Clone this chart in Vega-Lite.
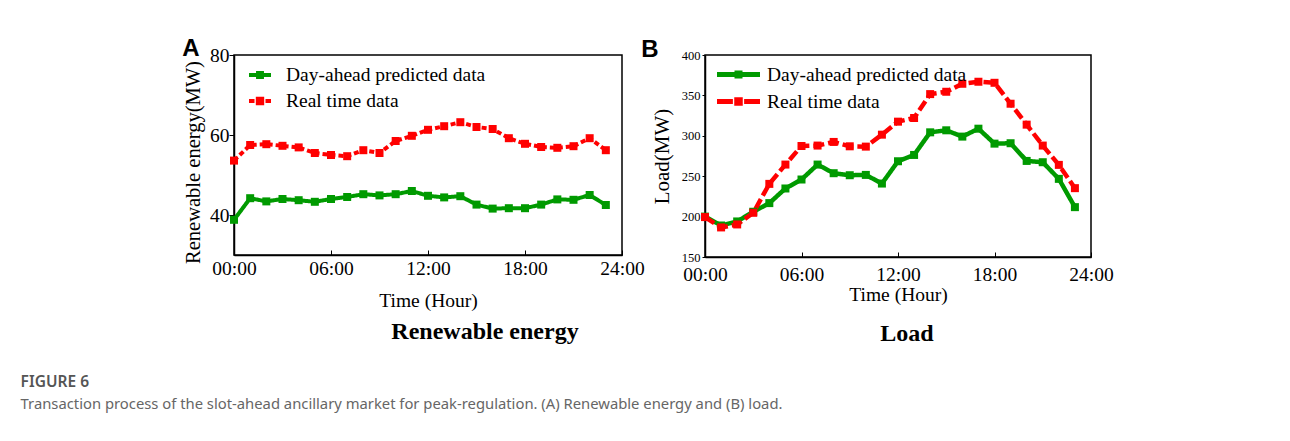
{
  "$schema": "https://vega.github.io/schema/vega-lite/v6.json",
  "background": "white",
  "padding": {"left": 20, "top": 36, "right": 5, "bottom": 5},
  "spacing": -5,
  "title": {
    "text": "FIGURE 6",
    "subtitle": "Transaction process of the slot-ahead ancillary market for peak-regulation. (A) Renewable energy and (B) load.",
    "orient": "bottom",
    "anchor": "start",
    "dx": -161,
    "offset": 28,
    "font": "Noto Sans",
    "fontSize": 15.5,
    "fontWeight": 600,
    "color": "#555555",
    "subtitleFont": "Noto Sans",
    "subtitleFontSize": 14.8,
    "subtitleColor": "#666666",
    "subtitlePadding": 7
  },
  "datasets": {
    "series": [
      {"panel": "A", "series": "Day-ahead predicted data", "hour": 0, "value": 38.8},
      {"panel": "A", "series": "Day-ahead predicted data", "hour": 1, "value": 44.2},
      {"panel": "A", "series": "Day-ahead predicted data", "hour": 2, "value": 43.4},
      {"panel": "A", "series": "Day-ahead predicted data", "hour": 3, "value": 44.0},
      {"panel": "A", "series": "Day-ahead predicted data", "hour": 4, "value": 43.7},
      {"panel": "A", "series": "Day-ahead predicted data", "hour": 5, "value": 43.3},
      {"panel": "A", "series": "Day-ahead predicted data", "hour": 6, "value": 44.0},
      {"panel": "A", "series": "Day-ahead predicted data", "hour": 7, "value": 44.5},
      {"panel": "A", "series": "Day-ahead predicted data", "hour": 8, "value": 45.2},
      {"panel": "A", "series": "Day-ahead predicted data", "hour": 9, "value": 44.9},
      {"panel": "A", "series": "Day-ahead predicted data", "hour": 10, "value": 45.2},
      {"panel": "A", "series": "Day-ahead predicted data", "hour": 11, "value": 46.0},
      {"panel": "A", "series": "Day-ahead predicted data", "hour": 12, "value": 44.8},
      {"panel": "A", "series": "Day-ahead predicted data", "hour": 13, "value": 44.4},
      {"panel": "A", "series": "Day-ahead predicted data", "hour": 14, "value": 44.7},
      {"panel": "A", "series": "Day-ahead predicted data", "hour": 15, "value": 42.6},
      {"panel": "A", "series": "Day-ahead predicted data", "hour": 16, "value": 41.6},
      {"panel": "A", "series": "Day-ahead predicted data", "hour": 17, "value": 41.7},
      {"panel": "A", "series": "Day-ahead predicted data", "hour": 18, "value": 41.7},
      {"panel": "A", "series": "Day-ahead predicted data", "hour": 19, "value": 42.6},
      {"panel": "A", "series": "Day-ahead predicted data", "hour": 20, "value": 43.9},
      {"panel": "A", "series": "Day-ahead predicted data", "hour": 21, "value": 43.8},
      {"panel": "A", "series": "Day-ahead predicted data", "hour": 22, "value": 45.0},
      {"panel": "A", "series": "Day-ahead predicted data", "hour": 23, "value": 42.5},
      {"panel": "A", "series": "Real time data", "hour": 0, "value": 53.6},
      {"panel": "A", "series": "Real time data", "hour": 1, "value": 57.5},
      {"panel": "A", "series": "Real time data", "hour": 2, "value": 57.7},
      {"panel": "A", "series": "Real time data", "hour": 3, "value": 57.3},
      {"panel": "A", "series": "Real time data", "hour": 4, "value": 56.9},
      {"panel": "A", "series": "Real time data", "hour": 5, "value": 55.5},
      {"panel": "A", "series": "Real time data", "hour": 6, "value": 55.0},
      {"panel": "A", "series": "Real time data", "hour": 7, "value": 54.7},
      {"panel": "A", "series": "Real time data", "hour": 8, "value": 56.2},
      {"panel": "A", "series": "Real time data", "hour": 9, "value": 55.5},
      {"panel": "A", "series": "Real time data", "hour": 10, "value": 58.5},
      {"panel": "A", "series": "Real time data", "hour": 11, "value": 59.8},
      {"panel": "A", "series": "Real time data", "hour": 12, "value": 61.3},
      {"panel": "A", "series": "Real time data", "hour": 13, "value": 62.2},
      {"panel": "A", "series": "Real time data", "hour": 14, "value": 63.2},
      {"panel": "A", "series": "Real time data", "hour": 15, "value": 62.0},
      {"panel": "A", "series": "Real time data", "hour": 16, "value": 61.5},
      {"panel": "A", "series": "Real time data", "hour": 17, "value": 59.2},
      {"panel": "A", "series": "Real time data", "hour": 18, "value": 57.8},
      {"panel": "A", "series": "Real time data", "hour": 19, "value": 57.0},
      {"panel": "A", "series": "Real time data", "hour": 20, "value": 56.8},
      {"panel": "A", "series": "Real time data", "hour": 21, "value": 57.2},
      {"panel": "A", "series": "Real time data", "hour": 22, "value": 59.2},
      {"panel": "A", "series": "Real time data", "hour": 23, "value": 56.2},
      {"panel": "B", "series": "Day-ahead predicted data", "hour": 0, "value": 200},
      {"panel": "B", "series": "Day-ahead predicted data", "hour": 1, "value": 189},
      {"panel": "B", "series": "Day-ahead predicted data", "hour": 2, "value": 194},
      {"panel": "B", "series": "Day-ahead predicted data", "hour": 3, "value": 206},
      {"panel": "B", "series": "Day-ahead predicted data", "hour": 4, "value": 216.7},
      {"panel": "B", "series": "Day-ahead predicted data", "hour": 5, "value": 234.8},
      {"panel": "B", "series": "Day-ahead predicted data", "hour": 6, "value": 245.9},
      {"panel": "B", "series": "Day-ahead predicted data", "hour": 7, "value": 264.4},
      {"panel": "B", "series": "Day-ahead predicted data", "hour": 8, "value": 253.7},
      {"panel": "B", "series": "Day-ahead predicted data", "hour": 9, "value": 251.2},
      {"panel": "B", "series": "Day-ahead predicted data", "hour": 10, "value": 251.6},
      {"panel": "B", "series": "Day-ahead predicted data", "hour": 11, "value": 240.9},
      {"panel": "B", "series": "Day-ahead predicted data", "hour": 12, "value": 268.5},
      {"panel": "B", "series": "Day-ahead predicted data", "hour": 13, "value": 276.3},
      {"panel": "B", "series": "Day-ahead predicted data", "hour": 14, "value": 304.3},
      {"panel": "B", "series": "Day-ahead predicted data", "hour": 15, "value": 306.8},
      {"panel": "B", "series": "Day-ahead predicted data", "hour": 16, "value": 299},
      {"panel": "B", "series": "Day-ahead predicted data", "hour": 17, "value": 308.8},
      {"panel": "B", "series": "Day-ahead predicted data", "hour": 18, "value": 290.3},
      {"panel": "B", "series": "Day-ahead predicted data", "hour": 19, "value": 290.8},
      {"panel": "B", "series": "Day-ahead predicted data", "hour": 20, "value": 268.9},
      {"panel": "B", "series": "Day-ahead predicted data", "hour": 21, "value": 267.3},
      {"panel": "B", "series": "Day-ahead predicted data", "hour": 22, "value": 246.7},
      {"panel": "B", "series": "Day-ahead predicted data", "hour": 23, "value": 211.7},
      {"panel": "B", "series": "Real time data", "hour": 0, "value": 199.4},
      {"panel": "B", "series": "Real time data", "hour": 1, "value": 186.6},
      {"panel": "B", "series": "Real time data", "hour": 2, "value": 190.3},
      {"panel": "B", "series": "Real time data", "hour": 3, "value": 204.7},
      {"panel": "B", "series": "Real time data", "hour": 4, "value": 240.5},
      {"panel": "B", "series": "Real time data", "hour": 5, "value": 264.4},
      {"panel": "B", "series": "Real time data", "hour": 6, "value": 287.4},
      {"panel": "B", "series": "Real time data", "hour": 7, "value": 287.9},
      {"panel": "B", "series": "Real time data", "hour": 8, "value": 292.4},
      {"panel": "B", "series": "Real time data", "hour": 9, "value": 287},
      {"panel": "B", "series": "Real time data", "hour": 10, "value": 286.6},
      {"panel": "B", "series": "Real time data", "hour": 11, "value": 301.4},
      {"panel": "B", "series": "Real time data", "hour": 12, "value": 317.5},
      {"panel": "B", "series": "Real time data", "hour": 13, "value": 322},
      {"panel": "B", "series": "Real time data", "hour": 14, "value": 351.6},
      {"panel": "B", "series": "Real time data", "hour": 15, "value": 354.5},
      {"panel": "B", "series": "Real time data", "hour": 16, "value": 364.4},
      {"panel": "B", "series": "Real time data", "hour": 17, "value": 366.9},
      {"panel": "B", "series": "Real time data", "hour": 18, "value": 365.6},
      {"panel": "B", "series": "Real time data", "hour": 19, "value": 339.7},
      {"panel": "B", "series": "Real time data", "hour": 20, "value": 313.8},
      {"panel": "B", "series": "Real time data", "hour": 21, "value": 287.9},
      {"panel": "B", "series": "Real time data", "hour": 22, "value": 264},
      {"panel": "B", "series": "Real time data", "hour": 23, "value": 235.2}
    ],
    "letters": [{"panel": "A"}, {"panel": "B"}]
  },
  "config": {
    "view": {"stroke": "black", "strokeWidth": 1.5},
    "axis": {
      "grid": false,
      "domainColor": "black",
      "domainWidth": 1.5,
      "tickColor": "black",
      "labelColor": "black",
      "titleColor": "black",
      "labelFont": "Liberation Serif",
      "titleFont": "Liberation Serif",
      "titleFontWeight": "normal"
    },
    "legend": {
      "labelFont": "Liberation Serif",
      "labelColor": "black",
      "labelFontSize": 19.5,
      "labelLimit": 400
    }
  },
  "resolve": {"scale": {"color": "independent", "strokeDash": "independent"}, "legend": {"color": "independent"}},
  "hconcat": [
    {
      "width": 388,
      "height": 200,
      "title": {"text": "Renewable energy", "orient": "bottom", "anchor": "middle", "dx": 57, "offset": 10, "font": "Liberation Serif", "fontSize": 24, "fontWeight": "bold", "color": "black"},
      "layer": [
        {
          "data": {"name": "series"},
          "transform": [{"filter": "datum.panel === 'A'"}],
          "mark": {"type": "line", "strokeWidth": 4},
          "encoding": {
            "x": {"field": "hour", "type": "quantitative", "scale": {"domain": [0, 24], "nice": false},
              "axis": {"values": [0, 6, 12, 18, 24], "labelExpr": "(datum.value < 10 ? '0' : '') + datum.value + ':00'", "title": "Time (Hour)", "labelFontSize": 19.5, "titleFontSize": 19.5, "tickSize": -5, "labelPadding": 9, "titlePadding": 14, "labelFlush": false, "labelOverlap": false}},
            "y": {"field": "value", "type": "quantitative", "scale": {"domain": [30, 80], "nice": false, "zero": false},
              "axis": {"values": [40, 60, 80], "title": "Renewable energy(MW)", "labelFontSize": 19.5, "titleFontSize": 20.5, "tickSize": 5, "labelPadding": 0, "titlePadding": 6, "titleY": 107}},
            "color": {"field": "series", "type": "nominal",
              "scale": {"domain": ["Day-ahead predicted data", "Real time data"], "range": ["#009a00", "#ff0000"]},
              "legend": {"orient": "none", "legendX": 15, "legendY": 9, "title": null, "symbolSize": 484, "labelOffset": 15, "rowPadding": 5, "symbolStrokeWidth": 0,
                "encode": {"symbols": {"update": {
                  "shape": {"signal": "datum.value === 'Real time data' ? 'M-1,-0.18H-0.5V0.18H-1Z M-0.38,-0.38H0.38V0.38H-0.38Z M0.5,-0.18H1V0.18H0.5Z' : 'M-1,-0.18H1V0.18H-1Z M-0.36,-0.36H0.36V0.36H-0.36Z'"},
                  "fill": {"signal": "datum.value === 'Real time data' ? '#ff0000' : '#009a00'"},
                  "strokeWidth": {"value": 0},
                  "opacity": {"value": 1}}}}}},
            "strokeDash": {"field": "series", "type": "nominal", "scale": {"domain": ["Day-ahead predicted data", "Real time data"], "range": [[1, 0], [5, 3]]}, "legend": null}
          }
        },
        {
          "data": {"name": "series"},
          "transform": [{"filter": "datum.panel === 'A'"}],
          "mark": {"type": "point", "shape": "square", "filled": true, "opacity": 1, "size": 64},
          "encoding": {
            "x": {"field": "hour", "type": "quantitative"},
            "y": {"field": "value", "type": "quantitative"},
            "color": {"field": "series", "type": "nominal", "legend": null}
          }
        },
        {
          "data": {"name": "letters"},
          "transform": [{"filter": "datum.panel === 'A'"}],
          "mark": {"type": "text", "font": "Liberation Sans", "fontSize": 24, "fontWeight": "bold", "color": "black", "align": "center", "baseline": "alphabetic", "dx": -43, "dy": 1},
          "encoding": {
            "x": {"datum": 0, "type": "quantitative"},
            "y": {"datum": 80, "type": "quantitative"},
            "text": {"field": "panel"}
          }
        }
      ]
    },
    {
      "width": 386,
      "height": 202,
      "title": {"text": "Load", "orient": "bottom", "anchor": "middle", "dx": 9, "offset": 18, "font": "Liberation Serif", "fontSize": 24, "fontWeight": "bold", "color": "black"},
      "layer": [
        {
          "data": {"name": "series"},
          "transform": [{"filter": "datum.panel === 'B'"}],
          "mark": {"type": "line", "strokeWidth": 4.5},
          "encoding": {
            "x": {"field": "hour", "type": "quantitative", "scale": {"domain": [0, 24], "nice": false},
              "axis": {"values": [0, 6, 12, 18, 24], "labelExpr": "(datum.value < 10 ? '0' : '') + datum.value + ':00'", "title": "Time (Hour)", "labelFontSize": 19.5, "titleFontSize": 19.5, "tickSize": -5, "labelPadding": 13.5, "titlePadding": 1.5, "labelFlush": false, "labelOverlap": false}},
            "y": {"field": "value", "type": "quantitative", "scale": {"domain": [150, 400], "nice": false, "zero": false},
              "axis": {"values": [150, 200, 250, 300, 350, 400], "title": "Load(MW)", "labelFontSize": 12.5, "titleFontSize": 21, "tickSize": 3, "labelPadding": 2, "titlePadding": 9}},
            "color": {"field": "series", "type": "nominal",
              "scale": {"domain": ["Day-ahead predicted data", "Real time data"], "range": ["#009a00", "#ff0000"]},
              "legend": {"orient": "none", "legendX": 21, "legendY": 7, "title": null, "symbolSize": 625, "labelOffset": 16, "rowPadding": 5, "symbolStrokeWidth": 0,
                "encode": {"symbols": {"update": {
                  "shape": {"signal": "datum.value === 'Real time data' ? 'M-1.72,-0.2H-0.45V0.2H-1.72Z M-0.34,-0.34H0.34V0.34H-0.34Z M0.45,-0.2H1.72V0.2H0.45Z' : 'M-1.72,-0.2H1.72V0.2H-1.72Z M-0.32,-0.32H0.32V0.32H-0.32Z'"},
                  "fill": {"signal": "datum.value === 'Real time data' ? '#ff0000' : '#009a00'"},
                  "strokeWidth": {"value": 0},
                  "opacity": {"value": 1}}}}}},
            "strokeDash": {"field": "series", "type": "nominal", "scale": {"domain": ["Day-ahead predicted data", "Real time data"], "range": [[1, 0], [11, 4]]}, "legend": null}
          }
        },
        {
          "data": {"name": "series"},
          "transform": [{"filter": "datum.panel === 'B'"}],
          "mark": {"type": "point", "shape": "square", "filled": true, "opacity": 1, "size": 64},
          "encoding": {
            "x": {"field": "hour", "type": "quantitative"},
            "y": {"field": "value", "type": "quantitative"},
            "color": {"field": "series", "type": "nominal", "legend": null}
          }
        },
        {
          "data": {"name": "letters"},
          "transform": [{"filter": "datum.panel === 'B'"}],
          "mark": {"type": "text", "font": "Liberation Sans", "fontSize": 24, "fontWeight": "bold", "color": "black", "align": "center", "baseline": "alphabetic", "dx": -55, "dy": 2},
          "encoding": {
            "x": {"datum": 0, "type": "quantitative"},
            "y": {"datum": 400, "type": "quantitative"},
            "text": {"field": "panel"}
          }
        }
      ]
    }
  ]
}
